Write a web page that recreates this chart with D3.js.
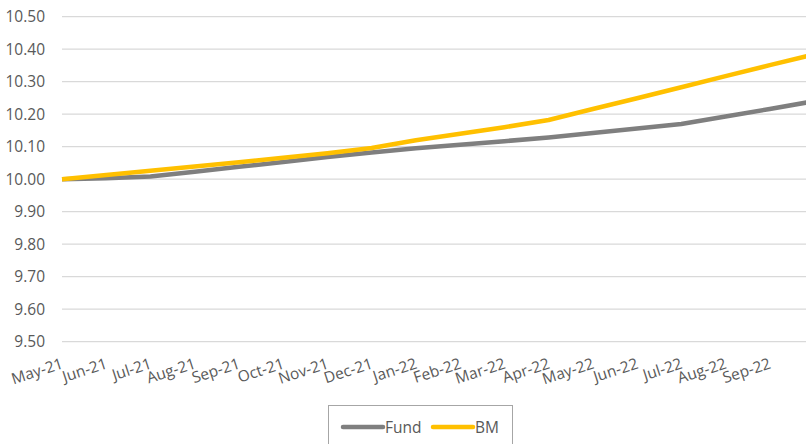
<!DOCTYPE html>
<html lang="en">
<head>
<meta charset="UTF-8">
<title>Fund vs BM</title>
<script src="https://cdnjs.cloudflare.com/ajax/libs/d3/7.8.5/d3.min.js"></script>
<style>
    html, body { margin: 0; padding: 0; background: #fff; overflow: hidden; }
    svg text { font-family: "Open Sans", sans-serif; fill: #595959; }
</style>
</head>
<body>
<svg id="chart" width="806" height="444"></svg>
<script>
    // months on the category axis (last one runs off the right edge, no label shown)
    const months = ["May-21", "Jun-21", "Jul-21", "Aug-21", "Sep-21", "Oct-21", "Nov-21", "Dec-21",
        "Jan-22", "Feb-22", "Mar-22", "Apr-22", "May-22", "Jun-22", "Jul-22", "Aug-22", "Sep-22", "Oct-22"];
    const monthLabels = months.slice(0, 17);

    const fund = [10.000, 10.003, 10.008, 10.023, 10.038, 10.053, 10.068, 10.082,
        10.095, 10.106, 10.117, 10.128, 10.142, 10.156, 10.170, 10.193, 10.216, 10.240];
    const bm = [10.000, 10.013, 10.026, 10.039, 10.052, 10.066, 10.080, 10.096,
        10.120, 10.140, 10.160, 10.182, 10.216, 10.249, 10.283, 10.317, 10.351, 10.384];

    const yTicks = [9.5, 9.6, 9.7, 9.8, 9.9, 10.0, 10.1, 10.2, 10.3, 10.4, 10.5];

    const series = [
        { name: "Fund", values: fund, color: "#7f7f7f" },
        { name: "BM", values: bm, color: "#ffc000" }
    ];

    const svg = d3.select("#chart");
    const plotLeft = 62, plotRight = 814, plotTop = 16.7, plotBottom = 341.7;

    const x = d3.scalePoint().domain(months).range([plotLeft, plotRight]);
    const y = d3.scaleLinear().domain([9.5, 10.5]).range([plotBottom, plotTop]);

    // gridlines
    svg.append("g")
        .selectAll("line")
        .data(yTicks)
        .enter()
        .append("line")
        .attr("x1", plotLeft)
        .attr("x2", 806)
        .attr("y1", d => y(d))
        .attr("y2", d => y(d))
        .attr("stroke", "#d9d9d9")
        .attr("stroke-width", 1.3);

    // y axis labels
    const yAxis = d3.axisLeft(y).tickValues(yTicks).tickFormat(d3.format(".2f")).tickSize(0).tickPadding(17);
    svg.append("g")
        .attr("transform", `translate(${plotLeft},0)`)
        .call(yAxis)
        .call(g => g.select(".domain").remove())
        .selectAll("text")
        .style("font-size", "15.5px")
        .style("font-family", "Open Sans, sans-serif")
        .attr("fill", "#595959");

    // x axis labels, rotated
    svg.append("g")
        .selectAll("text")
        .data(monthLabels)
        .enter()
        .append("text")
        .attr("text-anchor", "end")
        .attr("transform", d => `translate(${x(d) + 2},${368}) rotate(-18)`)
        .style("font-size", "15.5px")
        .text(d => d);

    // lines
    const line = d3.line()
        .x((d, i) => x(months[i]))
        .y(d => y(d));

    svg.append("g")
        .selectAll("path")
        .data(series)
        .enter()
        .append("path")
        .attr("d", d => line(d.values))
        .attr("fill", "none")
        .attr("stroke", d => d.color)
        .attr("stroke-width", 4.5)
        .attr("stroke-linejoin", "round");

    // legend
    const legend = svg.append("g").attr("transform", "translate(328,405)");
    legend.append("rect")
        .attr("x", 0.5).attr("y", 0.5)
        .attr("width", 184).attr("height", 45)
        .attr("fill", "#fff")
        .attr("stroke", "#a6a6a6");
    const items = legend.selectAll("g.item")
        .data(series)
        .enter()
        .append("g")
        .attr("class", "item")
        .attr("transform", (d, i) => `translate(${i === 0 ? 15 : 105},22)`);
    items.append("line")
        .attr("x1", 0).attr("x2", 40)
        .attr("stroke", d => d.color)
        .attr("stroke-width", 4.5)
        .attr("stroke-linecap", "round");
    items.append("text")
        .attr("x", 42)
        .attr("y", 5.5)
        .style("font-size", "15.5px")
        .text(d => d.name);
</script>
</body>
</html>
